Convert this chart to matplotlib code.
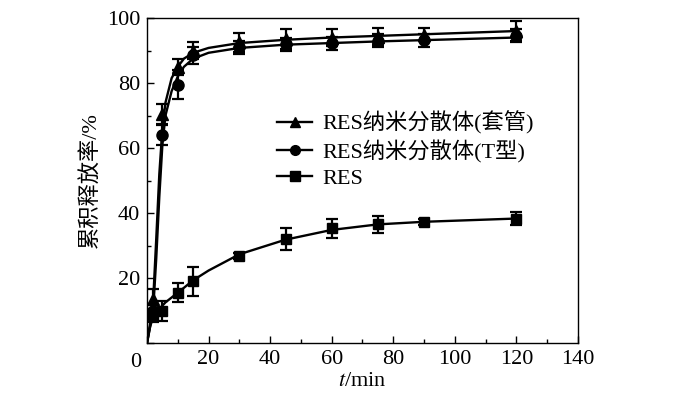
import numpy as np
import matplotlib.pyplot as plt

plt.rcParams['font.family'] = ['Liberation Serif', 'Noto Sans CJK SC']
plt.rcParams['mathtext.fontset'] = 'stix'

# measured points
t = [2, 5, 10, 15, 30, 45, 60, 75, 90, 120]
tg = [13.5, 70.5, 85.0, 90.0, 92.5, 93.5, 94.0, 94.3, 94.8, 96.0]
tg_err = [3.0, 3.0, 2.5, 2.5, 3.0, 3.0, 2.5, 2.5, 2.0, 3.0]
tx = [10.0, 64.0, 79.5, 88.5, 91.0, 92.0, 92.3, 93.0, 93.2, 94.5]
tx_err = [2.0, 3.0, 4.5, 2.5, 2.0, 2.0, 2.0, 2.0, 2.0, 2.0]
res = [8.5, 9.8, 15.5, 19.0, 26.8, 32.0, 35.3, 36.5, 37.2, 38.2]
res_err = [2.0, 3.0, 3.0, 4.5, 1.0, 3.5, 3.0, 2.5, 1.0, 2.0]

# fitted curves
ft = [0, 1, 2, 3, 4, 5, 6, 8, 10, 12, 15, 20, 30, 45, 60, 75, 90, 120]
tg_fit = [0, 6, 13, 32, 52, 66, 74, 81.5, 85, 87.5, 89.3, 90.8, 92.3, 93.3, 94.0, 94.5, 95.0, 96.0]
tx_fit = [0, 5, 10, 26, 45, 61, 70, 77.5, 82, 85, 87.5, 89.3, 90.8, 91.8, 92.3, 92.8, 93.2, 94.0]
res_fit = [0, 5, 8, 9.5, 10.5, 11.5, 12.5, 14, 15.5, 17, 19.3, 22.3, 27.3, 31.8, 34.8, 36.5, 37.3, 38.3]

fig = plt.figure(figsize=(7, 3.97), dpi=100)
ax = fig.add_axes([0.21, 0.136, 0.6157, 0.8186])

ax.plot(ft, tg_fit, color='black', lw=1.7)
ax.plot(ft, tx_fit, color='black', lw=1.7)
ax.plot(ft, res_fit, color='black', lw=1.7)
eb = dict(color='black', ms=8, capsize=4.5, elinewidth=1.6, capthick=1.6)
ax.errorbar(t, tg, yerr=tg_err, fmt='^', **eb)
ax.errorbar(t, tx, yerr=tx_err, fmt='o', **eb)
ax.errorbar(t, res, yerr=res_err, fmt='s', ms=7.5, color='black', capsize=4.5, elinewidth=1.6, capthick=1.6)

# legend handles
h1, = ax.plot([], [], '^-', color='black', ms=7, lw=1.7)
h2, = ax.plot([], [], 'o-', color='black', ms=7, lw=1.7)
h3, = ax.plot([], [], 's-', color='black', ms=7, lw=1.7)
ax.legend([h1, h2, h3], ['RES纳米分散体(套管)', 'RES纳米分散体(T型)', 'RES'],
          loc='upper left', bbox_to_anchor=(0.265, 0.762), frameon=False,
          fontsize=16, handlelength=1.6, labelspacing=0.25, handletextpad=0.45,
          borderpad=0.2)

ax.set_xlim(0, 140)
ax.set_ylim(0, 100)
ax.set_xticks(range(0, 141, 20))
ax.set_xticks(range(10, 140, 20), minor=True)
ax.set_yticks(range(0, 101, 20))
ax.set_yticks(range(10, 100, 20), minor=True)
ax.set_xticklabels([''] + [str(v) for v in range(20, 141, 20)])
ax.set_yticklabels([''] + [str(v) for v in range(20, 101, 20)])
ax.tick_params(direction='in', labelsize=16, length=5, width=1, pad=5)
ax.tick_params(which='minor', direction='in', length=3, width=1)
ax.text(-0.026, -0.03, '0', transform=ax.transAxes, ha='center', va='top', fontsize=16)
for s in ax.spines.values():
    s.set_linewidth(1)

ax.set_xlabel('$t$/min', fontsize=16, labelpad=2)
ax.set_ylabel('累积释放率/%', fontsize=16, labelpad=4)

fig.savefig('out.png', dpi=100)
